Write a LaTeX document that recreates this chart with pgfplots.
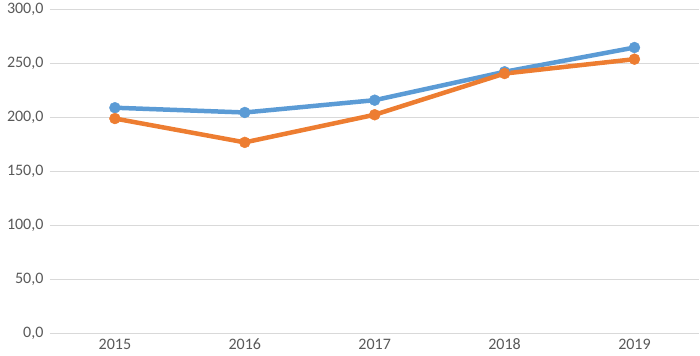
\documentclass[border=0pt]{standalone}
\usepackage{pgfplots}
\pgfplotsset{compat=1.18}
\usepackage{fontspec}
\setmainfont{Carlito}
\definecolor{cblue}{HTML}{5B9BD5}
\definecolor{corange}{HTML}{ED7D31}
\definecolor{cgrid}{HTML}{D9D9D9}
\definecolor{ctext}{HTML}{595959}
\begin{document}
\begin{tikzpicture}[x=1pt,y=1pt]
\begin{axis}[
  name=ax,
  at={(0,0)}, anchor=south west,
  scale only axis, width=650pt, height=324pt,
  xmin=2014.5, xmax=2019.5, ymin=0, ymax=300,
  xtick={2015,2016,2017,2018,2019},
  xticklabels={2015,2016,2017,2018,2019},
  ytick={0,50,100,150,200,250,300},
  ymajorgrids, grid style={cgrid, line width=1.2pt},
  axis line style={draw=none},
  major tick length=0pt,
  tick label style={font=\fontsize{16}{19}\selectfont, text=ctext},
  xticklabel style={yshift=-2pt},
  yticklabel style={xshift=-3pt},
  /pgf/number format/assume math mode=true,
  /pgf/number format/.cd, fixed, fixed zerofill, precision=1, use comma,
  /pgfplots/.cd,
  clip=false,
]
\addplot[cblue, line width=4.5pt, line join=round, mark=*, mark size=5.5pt, mark options={solid, fill=cblue, draw=cblue, line width=0.4pt}]
  coordinates {(2015,209) (2016,204.6) (2017,216) (2018,242.3) (2019,264.8)};
\addplot[corange, line width=4.5pt, line join=round, mark=*, mark size=5.5pt, mark options={solid, fill=corange, draw=corange, line width=0.4pt}]
  coordinates {(2015,199) (2016,176.9) (2017,202.5) (2018,240.7) (2019,254)};
\end{axis}
\useasboundingbox (-50,-22) rectangle (650,331);
\end{tikzpicture}
\end{document}
